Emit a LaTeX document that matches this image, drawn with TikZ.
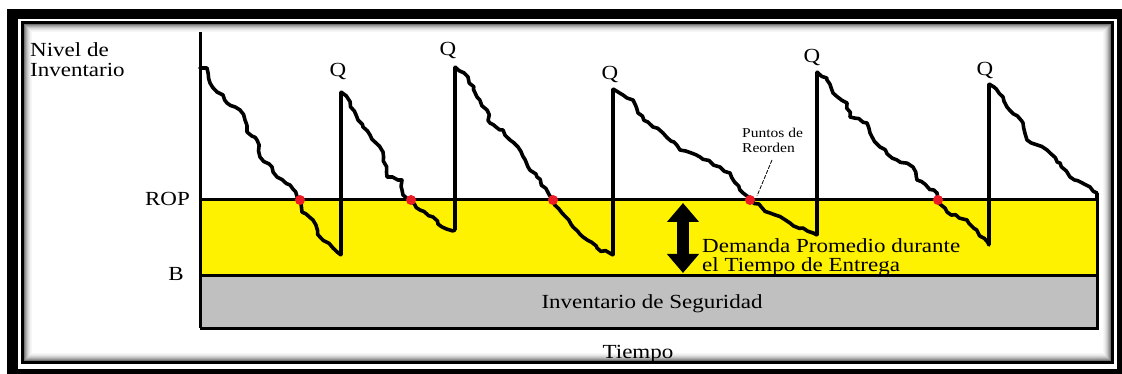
\documentclass[tikz,border=0pt]{standalone}
\usepackage{fontspec}
\setmainfont{Liberation Serif}[FakeStretch=1.15]
\usetikzlibrary{decorations.pathmorphing,arrows.meta}
\definecolor{ropyellow}{RGB}{255,242,0}
\definecolor{ssgray}{RGB}{192,192,192}
\definecolor{dotred}{RGB}{237,28,36}
\begin{document}
\begin{tikzpicture}[x=1pt,y=-1pt,
  lbl/.style={inner sep=0pt, font=\fontsize{20}{22}\selectfont},
  small/.style={inner sep=0pt, font=\fontsize{13.5}{15}\selectfont},
  saw/.style={line width=3.6pt, line join=round, line cap=round, decorate,
    decoration={random steps, segment length=5pt, amplitude=1.5pt}},
  jump/.style={line width=3.6pt},
  dot/.style={circle, fill=dotred, inner sep=0pt, minimum size=10pt},
  boxline/.style={line width=3pt}]
\pgfmathsetseed{11}
\useasboundingbox (0,0) rectangle (1122,374);
\fill[white] (0,0) rectangle (1122,374);
% frame
\fill[black] (7,9) rectangle (1122,374);
\fill[white] (18,19) rectangle (1117,369);
\foreach \i/\c in {0/55,1/42,2/32,3/23,4/16,5/10,6/6,7/3}{
  \draw[black!\c, line width=1pt] (24.5+\i,24.5+\i) rectangle (1110.5-\i,360.5-\i);}
\draw[line width=3pt] (22.5,22.5) rectangle (1112.5,362.5);
% chart coordinates
\coordinate (axtop) at (200,32);
\coordinate (rop0) at (200,200);
\coordinate (rop1) at (1097,200);
\coordinate (b0) at (200,275.5);
\coordinate (b1) at (1097,275.5);
\coordinate (bot0) at (200,328);
\coordinate (bot1) at (1097,328);
\fill[ropyellow] (rop0) rectangle (b1);
\fill[ssgray] (b0) rectangle (bot1);
\draw[boxline] (rop0) -- (rop1) -- (bot1) -- (bot0);
\draw[boxline] (b0) -- (b1);
\draw[boxline] (axtop) -- (bot0);
% key points of the inventory curve
\coordinate (t1) at (200,68);  \coordinate (p1) at (300,200); \coordinate (e1) at (341,255);
\coordinate (t2) at (341,92);  \coordinate (p2) at (411,200); \coordinate (e2) at (455,230);
\coordinate (t3) at (455,67);  \coordinate (p3) at (553,200); \coordinate (e3) at (613,255);
\coordinate (t4) at (613,89);  \coordinate (p4) at (750,200); \coordinate (e4) at (817,235);
\coordinate (t5) at (817,72);  \coordinate (p5) at (938,200); \coordinate (e5) at (989,245);
\coordinate (t6) at (989,84);  \coordinate (e6) at (1097,193);
% cycle 1
\draw[saw] (t1) -- (207,68) -- (210,83) -- (217,92) -- (223,95) -- (227,103) -- (240,110) -- (245,120) -- (247,132) -- (257,140) -- (260,157) -- (272,167) -- (277,177) -- (290,185) -- (p1);
\draw[saw] (p1) -- (302,212) -- (313,220) -- (320,237) -- (333,248) -- (e1);
\draw[jump] (e1) -- (t2);
% cycle 2
\draw[saw] (t2) -- (347,97) -- (358,120) -- (363,127) -- (370,135) -- (383,152) -- (387,177) -- (402,180) -- (403,195) -- (p2);
\draw[saw] (p2) -- (420,210) -- (433,217) -- (442,227) -- (e2);
\draw[jump] (e2) -- (t3);
% cycle 3
\draw[saw] (t3) -- (468,77) -- (477,97) -- (487,110) -- (490,123) -- (503,130) -- (510,140) -- (518,147) -- (528,167) -- (537,177) -- (p3);
\draw[saw] (p3) -- (562,213) -- (573,227) -- (583,237) -- (597,248) -- (e3);
\draw[jump] (e3) -- (t4);
% cycle 4
\draw[saw] (t4) -- (618,92) -- (633,100) -- (638,113) -- (653,127) -- (663,133) -- (680,150) -- (700,157) -- (720,167) -- (730,173) -- (743,193) -- (p4);
\draw[saw] (p4) -- (770,213) -- (790,223) -- (e4);
\draw[jump] (e4) -- (t5);
% cycle 5
\draw[saw] (t5) -- (827,80) -- (833,93) -- (847,103) -- (850,117) -- (867,123) -- (870,133) -- (880,147) -- (897,160) -- (913,167) -- (917,180) -- (937,193) -- (p5);
\draw[saw] (p5) -- (947,212) -- (967,220) -- (e5);
\draw[jump] (e5) -- (t6);
% cycle 6
\draw[saw] (t6) -- (1003,97) -- (1007,107) -- (1023,123) -- (1027,140) -- (1047,150) -- (1060,163) -- (1070,177) -- (1090,187) -- (e6);
\draw[jump] (e6) -- (rop1);
% reorder dots
\foreach \p in {p1,p2,p3,p4,p5}{\node[dot] (d\p) at (\p) {};}
% labels
\node[lbl, anchor=base west] (nivel1) at (30,57) {Nivel de};
\node[lbl, anchor=base west] (nivel2) at (30,77) {Inventario};
\node[lbl, anchor=base east] (rop) at (190,206) {ROP};
\node[lbl, anchor=base east] (blbl) at (184,280.5) {B};
\node[lbl, anchor=base] (q1) at (338,77) {Q};
\node[lbl, anchor=base] (q2) at (448,56) {Q};
\node[lbl, anchor=base] (q3) at (610,80) {Q};
\node[lbl, anchor=base] (q4) at (812,63) {Q};
\node[lbl, anchor=base] (q5) at (985,76) {Q};
\node[lbl, anchor=base] (seg) at (652,308) {Inventario de Seguridad};
\node[lbl, anchor=base] (tiempo) at (638,358) {Tiempo};
\node[lbl, anchor=base west] (dem1) at (702,253) {Demanda Promedio durante};
\node[lbl, anchor=base west] (dem2) at (702,272) {el Tiempo de Entrega};
\node[small, anchor=base west] (pr1) at (742,138) {Puntos de};
\node[small, anchor=base west] (pr2) at (742,153) {Reorden};
% leader
\coordinate (lead) at (772,160);
\draw[line width=0.8pt, dash pattern=on 4pt off 1.5pt] (lead) -- (757,196);
% double arrow
\coordinate (arrtop) at (683,203);
\coordinate (arrbot) at (683,273);
\draw[line width=12pt, {Triangle[length=19pt,width=31pt]}-{Triangle[length=19pt,width=31pt]}] (arrtop) -- (arrbot);
\end{tikzpicture}
\end{document}
